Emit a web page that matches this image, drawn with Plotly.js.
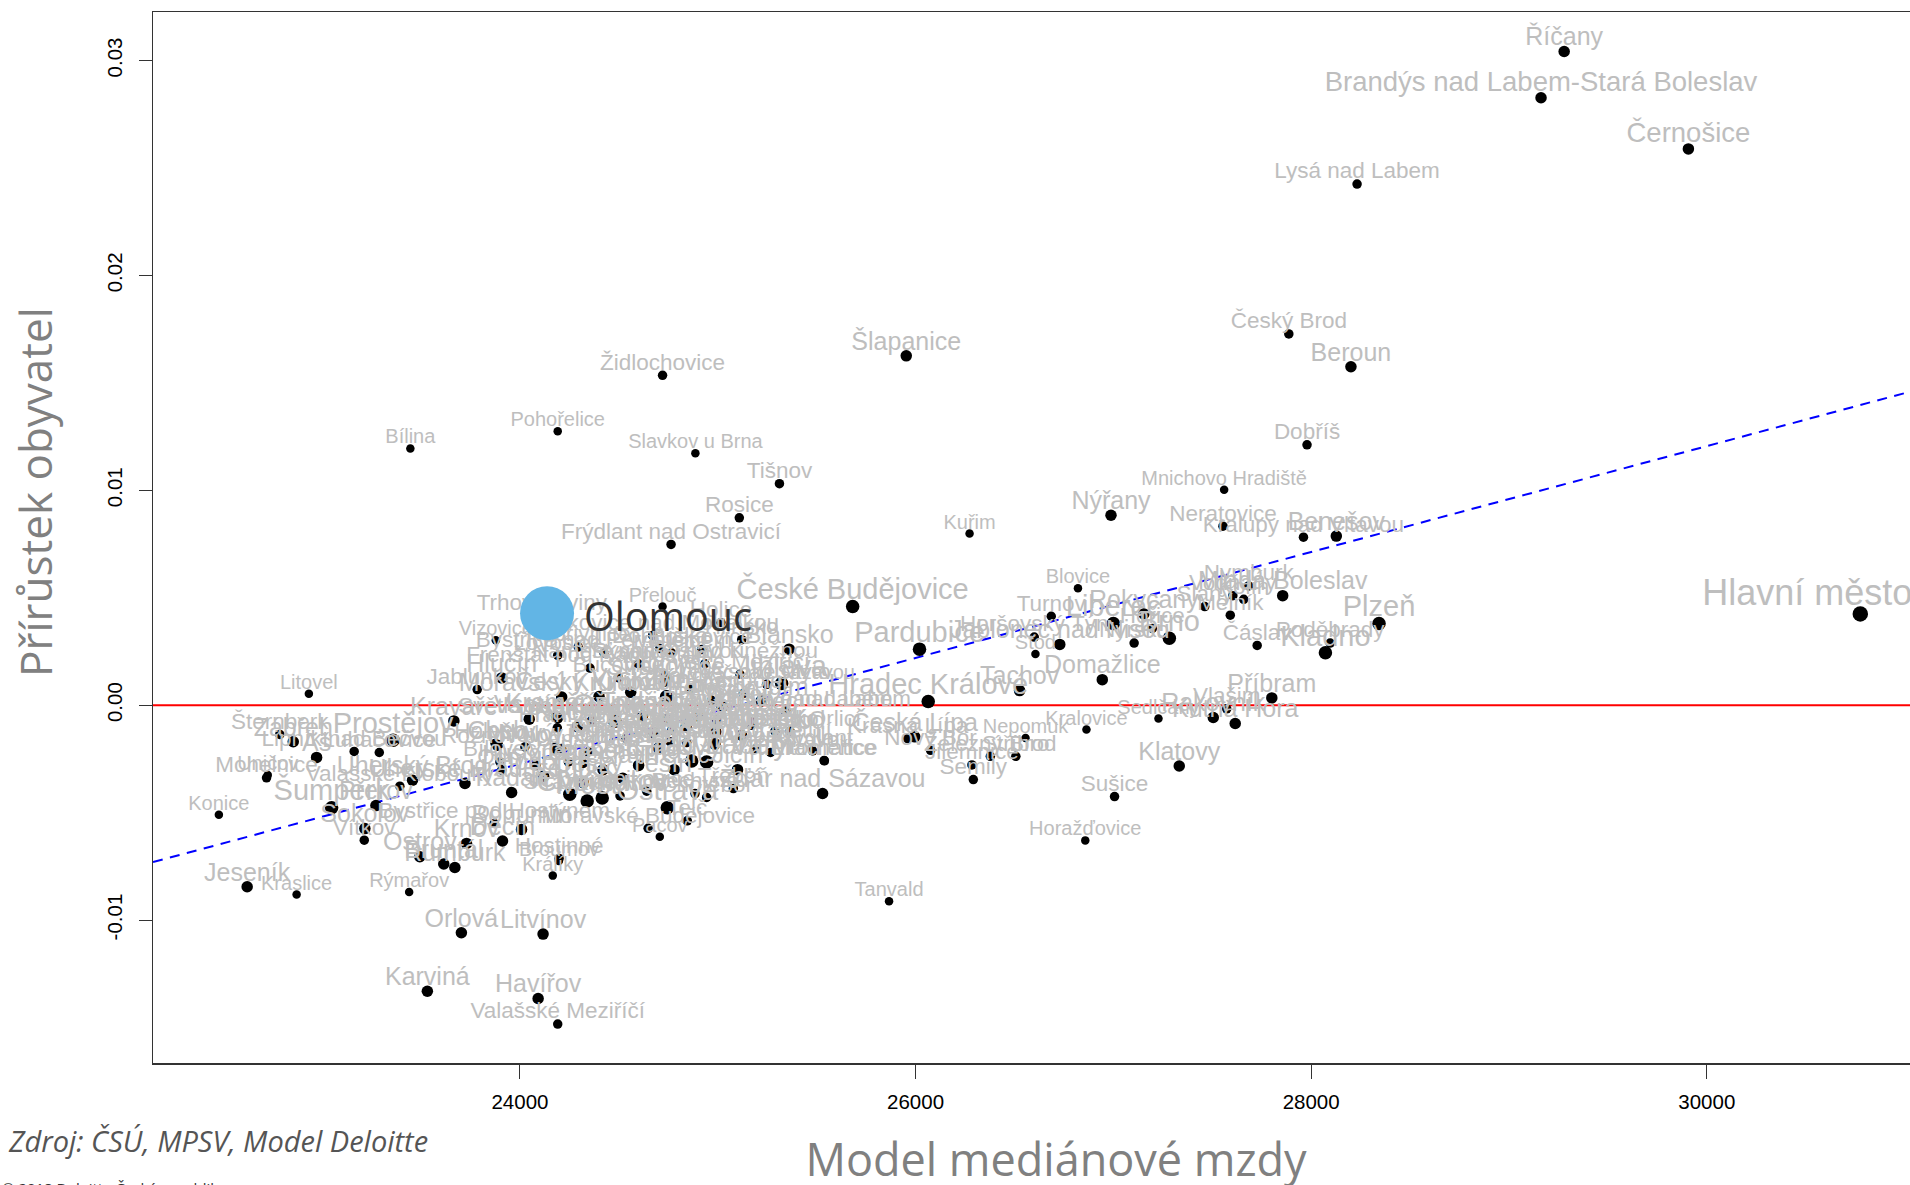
<!DOCTYPE html>
<html>
<head>
<meta charset="utf-8">
<script src="https://cdn.plot.ly/plotly-3.0.1.min.js"></script>
<style>
html,body{margin:0;padding:0;background:#fff;overflow:hidden;width:1910px;height:1185px}
#chart{width:1966px;height:1200px}
</style>
</head>
<body>
<div id="chart"></div>
<script>
// Town groups by population class (each class: names, wage model, population growth)
const smallNames = [
"Konice","Kraslice","Horažďovice","Nepomuk","Blovice","Králíky",
"Pacov","Kralovice","Rýmařov","Broumov","Tanvald","Kuřim",
"Bílina","Pohořelice","Přelouč","Vizovice","Litovel","Uničov",
"Sedlčany","Stod","Slavkov u Brna","Třešť","Kaplice","Ledeč nad Sázavou",
"Mnichovo Hradiště"];
const smallWage = [
22478,22871,26858,26556,26821,24166,
24707,26864,23440,24197,25866,26273,
23446,24191,24721,23878,22933,22725,
27228,26606,24887,24969,24595,25247,
27560];
const smallGrowth = [
-0.0051,-0.00881,-0.00629,-0.00153,0.00544,-0.00793,
-0.00612,-0.00113,-0.00869,-0.00725,-0.00912,0.00799,
0.01195,0.01275,0.00459,0.00302,0.00053,-0.00325,
-0.00062,0.00238,0.01173,0.00023,0.00193,0.00097,
0.01003];

const midNames = [
"Lysá nad Labem","Židlochovice","Valašské Meziříčí","Tišnov","Rosice","Frýdlant nad Ostravicí",
"Český Brod","Dobříš","Hostinné","Neratovice","Kralupy nad Vltavou","Trhové Sviny",
"Semily","Sušice","Poděbrady","Čáslav","Mělník","Šternberk",
"Mohelnice","Jablunkov","Vítkov","Lipník nad Bečvou","Bystřice pod Hostýnem","Frýdlant",
"Velké Meziříčí","Horšovský Týn","Jilemnice","Železný Brod","Stříbro","Krásná Lípa",
"Turnov","Vlašim","Moravské Budějovice","Holice","Slaný","Hořice",
"Nymburk","Vodňany","Kolín","Nýrsko","Kopřivnice","Bystřice nad Pernštejnem",
"Lovosice","Frenštát pod Radhoštěm","Bučovice","Náměšť nad Oslavou","Hodkovice nad Mohelkou","Hlinsko",
"Ivančice","Boskovice","Rychnov nad Kněžnou","Dobruška","Litomyšl","Vysoké Mýto",
"Humpolec","Nová Paka","Hořovice","Pelhřimov","Dvůr Králové nad Labem","Polička",
"Světlá nad Sázavou","Hranice","Kyjov","Veselí nad Moravou","Otrokovice","Holešov",
"Bílovec","Odry","Hustopeče","Mikulov","Rožnov pod Radhoštěm","Vrchlabí",
"Jaroměř","Lanškroun","Česká Třebová","Svitavy","Moravská Třebová","Dačice",
"Kamenice nad Lipou","Soběslav","Milevsko","Ústí nad Orlicí","Tišnovsko","Nové Město na Moravě",
"Nové Město nad Metují","Vimperk","Týn nad Vltavou","Prachatice","Třeboň","Bechyně",
"Chotěboř","Luhačovice","Valašské Klobouky","Bojkovice","Kunovice","Strážnice",
"Nový Bor","Litoměřice","Roudnice nad Labem","Žamberk","Telč","Rousínov"];
const midWage = [
28232,24721,24191,25312,25109,24764,
27887,27979,24198,27554,27961,24111,
26292,27006,28096,27727,27591,22786,
22719,23784,23213,23162,23870,25480,
25112,26600,26285,26378,26507,25960,
26686,27573,24648,25016,27462,27197,
27684,27604,27659,27105,24295,24425,
24191,24354,24497,24598,24671,25121,
24767,24919,24935,24707,24733,25247,
25129,24742,24969,25028,25348,24860,
24194,24189,24362,24480,24536,23874,
23899,23908,24081,24025,24211,24245,
24320,24346,24674,24742,24767,24994,
24969,25171,25289,25365,24759,24843,
24991,25193,25267,25539,25079,24885,
24944,23289,23393,24641,24506,24253,
26076,25538,25344,25171,24846,24682];
const midGrowth = [
0.02425,0.01535,-0.01484,0.01031,0.00872,0.00748,
0.01728,0.01212,-0.00713,0.00833,0.00782,0.00419,
-0.00346,-0.00425,0.00289,0.00278,0.00419,-0.00136,
-0.00338,0.00073,-0.00628,-0.00215,-0.0055,-0.00212,
0.00144,0.00317,-0.00278,-0.00238,-0.00238,-0.00155,
0.00414,-0.00017,-0.00573,0.00385,0.00459,0.00357,
0.00555,0.0051,0.00493,0.00289,0.00271,0.00243,
0.00232,0.00173,0.00128,0.00193,0.00325,0.00305,
0.00243,0.00259,0.00193,0.00264,0.00139,0.00097,
0.00054,0.00046,0.00023,-0.00008,-0.00028,0.00075,
-0.00062,-0.00105,-0.0007,-0.0007,-0.00155,-0.00178,
-0.00264,-0.00302,-0.00279,-0.00194,-0.00202,-0.00264,
-0.00271,-0.00217,-0.00132,-0.00062,-0.00116,-0.0007,
-0.00124,-0.00078,-0.00121,-0.00121,-0.0017,-0.00174,
-0.00178,-0.00202,-0.0022,-0.00259,-0.00388,-0.00411,
-0.00429,-0.0022,-0.00377,-0.004,-0.00422,-0.00415,
-0.0021,-0.00257,-0.00031,-0.00093,-0.00538,-0.00124];

const largeNames = [
"Říčany","Karviná","Havířov","Šlapanice","Nýřany","Beroun",
"Benešov","Příbram","Kutná Hora","Rakovník","Klatovy","Domažlice",
"Tachov","Mladá Boleslav","Rokycany","Jablonec nad Nisou","Žďár nad Sázavou","Blansko",
"Aš","Zábřeh","Přerov","Sokolov","Jeseník","Ostrov",
"Krnov","Bruntál","Rumburk","Děčín","Bohumín","Orlová",
"Litvínov","Hlučín","Moravský Krumlov","Kravaře","Uherský Brod","Uherské Hradiště",
"Kadaň","Vsetín","Kroměříž","Tábor","Písek","Cheb",
"Trutnov","Náchod","Vyškov","Hodonín","Břeclav","Znojmo",
"Třebíč","Nový Jičín","Třinec","Český Těšín","Louny","Žatec",
"Havlíčkův Brod","Chrudim","Jičín","Strakonice","Jindřichův Hradec","Český Krumlov",
"Česká Lípa"];
const largeWage = [
29279,23532,24092,25953,26988,28201,
28127,27801,27616,27505,27333,26944,
26526,27856,27154,26729,25530,25361,
22972,22854,23272,23216,22621,23494,
23730,23615,23671,23912,24008,23704,
24117,23908,24211,23666,23457,23722,
23958,24047,24185,24985,25019,23886,
24620,24290,24560,24120,24420,24600,
24780,24180,24320,24520,24700,24840,
25120,25220,25100,24736,24900,24400,
25996];
const largeGrowth = [
0.03042,-0.01331,-0.01365,0.01626,0.00884,0.01575,
0.00787,0.00034,-0.00085,-0.00057,-0.00283,0.00119,
0.00068,0.0051,0.00425,0.00283,-0.00411,0.00261,
-0.00243,-0.0017,-0.00467,-0.00574,-0.00845,-0.00705,
-0.00643,-0.00739,-0.00755,-0.00632,-0.00578,-0.01059,
-0.01065,0.00127,0.00038,-0.00073,-0.00349,-0.00364,
-0.00406,-0.00065,-0.00054,-0.00181,0,-0.00186,
-0.0005,-0.001,0.0006,-0.0033,-0.003,-0.0028,
-0.003,-0.002,-0.0036,-0.0034,-0.002,-0.001,
-0.0014,0.0002,-0.003,0.00113,-0.0005,0.0004,
-0.00147];

const suburbNames = ["Brandýs nad Labem-Stará Boleslav","Černošice"];
const suburbWage = [29162,29907];
const suburbGrowth = [0.02827,0.02589];

const cityNames = [
"České Budějovice","Pardubice","Hradec Králové","Plzeň","Kladno","Brno",
"Liberec","Prostějov","Šumperk",
"Ostrava","Jihlava","Most","Chomutov","Ústí nad Labem","Karlovy Vary",
"Teplice","Opava","Frýdek-Místek","Zlín"];
const cityWage = [
25682,26020,26064,28343,28072,27283,
27000,23359,23048,
24745,25323,24340,24416,24868,24944,
24252,24480,24985,24741];
const cityGrowth = [
0.00459,0.00261,0.00017,0.0038,0.00244,0.00312,
0.0038,-0.00163,-0.00477,
-0.00477,0.00101,-0.00446,-0.00432,-0.0026,-0.00264,
-0.00414,-0.00075,-0.00124,0.00039];

const capitalNames = ["Hlavní město Praha"];
const capitalWage = [30776];
const capitalGrowth = [0.00425];

const highlightName = ["Olomouc"];
const highlightWage = [24137];
const highlightGrowth = [0.00428];

const trendWage = [22145, 31275];
const trendGrowth = [-0.0073, 0.0152];
const zeroWage = [22145, 31275];
const zeroGrowth = [0, 0];

const xTicks = [24000,26000,28000,30000];
const yTicks = [-0.01,0,0.01,0.02,0.03];
const yTickLabels = ["-0.01","0.00","0.01","0.02","0.03"];

const groups = [
  {n:smallNames,  x:smallWage,  y:smallGrowth,  font:20,   dot:8.5},
  {n:midNames,    x:midWage,    y:midGrowth,    font:22.5, dot:9.5},
  {n:largeNames,  x:largeWage,  y:largeGrowth,  font:25,   dot:11.5},
  {n:suburbNames, x:suburbWage, y:suburbGrowth, font:27.5, dot:11.5},
  {n:cityNames,   x:cityWage,   y:cityGrowth,   font:29,   dot:13.5},
  {n:capitalNames,x:capitalWage,y:capitalGrowth,font:36,   dot:15.5}
];
const allX=[],allY=[],allT=[],allF=[],allD=[];
groups.forEach(g=>g.n.forEach((name,i)=>{
  allT.push(name);allX.push(g.x[i]);allY.push(g.y[i]);allF.push(g.font);allD.push(g.dot);
}));

const traces = [
  {type:'scatter',mode:'lines',x:trendWage,y:trendGrowth,hoverinfo:'skip',
   line:{color:'#0000ff',width:2,dash:'10px,7.5px'}},
  {type:'scatter',mode:'lines',x:zeroWage,y:zeroGrowth,hoverinfo:'skip',
   line:{color:'#ff0000',width:2}},
  {type:'scatter',mode:'markers',x:allX,y:allY,
   marker:{color:'#000000',size:allD,opacity:1,line:{width:0}}},
  {type:'scatter',mode:'text',x:allX,y:allY,text:allT,textposition:'top center',
   textfont:{family:'Liberation Sans, Arial, sans-serif',color:'#bebebe',size:allF}},
  {type:'scatter',mode:'markers',x:highlightWage,y:highlightGrowth,
   marker:{color:'#62b5e5',size:54,opacity:1,line:{width:0}}}
];

const layout = {
  width:1966,height:1200,showlegend:false,
  paper_bgcolor:'#ffffff',plot_bgcolor:'#ffffff',
  margin:{l:153,r:7,t:11.5,b:137},
  xaxis:{range:[22145,31275],tickvals:xTicks,ticktext:xTicks.map(String),
    showgrid:false,zeroline:false,showline:true,mirror:true,linecolor:'#333333',linewidth:1.5,
    ticks:'outside',ticklen:14,tickwidth:1,tickcolor:'#333333',ticklabelstandoff:6,
    tickfont:{family:'Liberation Sans, Arial, sans-serif',size:20.5,color:'#000'},
    title:{text:'Model mediánové mzdy',standoff:32,font:{family:'Open Sans, sans-serif',size:45,color:'#808080'}}},
  yaxis:{range:[-0.01665,0.03226],tickvals:yTicks,ticktext:yTickLabels,tickangle:-90,
    showgrid:false,zeroline:false,showline:true,mirror:true,linecolor:'#333333',linewidth:1.5,
    ticks:'outside',ticklen:13,tickwidth:1,tickcolor:'#333333',ticklabelstandoff:8,
    tickfont:{family:'Liberation Sans, Arial, sans-serif',size:20.5,color:'#000'}},
  annotations:[
    {xref:'x',yref:'y',x:highlightWage[0],y:highlightGrowth[0],xanchor:'left',yanchor:'middle',
     xshift:35,yshift:-3,text:highlightName[0],showarrow:false,
     font:{family:'Open Sans, sans-serif',size:39.5,color:'#333333'}},
    {xref:'paper',yref:'paper',x:0,y:1,xanchor:'center',yanchor:'middle',xshift:-118,yshift:-480,
     text:'Přírůstek obyvatel',textangle:-90,showarrow:false,
     font:{family:'Open Sans, sans-serif',size:44,color:'#808080'}},
    {xref:'paper',yref:'paper',x:0,y:0,xanchor:'left',yanchor:'middle',xshift:-147,yshift:-77,
     text:'<i>Zdroj: ČSÚ, MPSV, Model Deloitte</i>',showarrow:false,
     font:{family:'Open Sans, sans-serif',size:29,color:'#555555'}},
    {xref:'paper',yref:'paper',x:0,y:0,xanchor:'left',yanchor:'middle',xshift:-153,yshift:-125,
     text:'© 2018 Deloitte Česká republika',showarrow:false,
     font:{family:'Open Sans, sans-serif',size:15,color:'#333333'}}
  ]
};
Plotly.newPlot('chart',traces,layout,{displayModeBar:false,staticPlot:true});
</script>
</body>
</html>
